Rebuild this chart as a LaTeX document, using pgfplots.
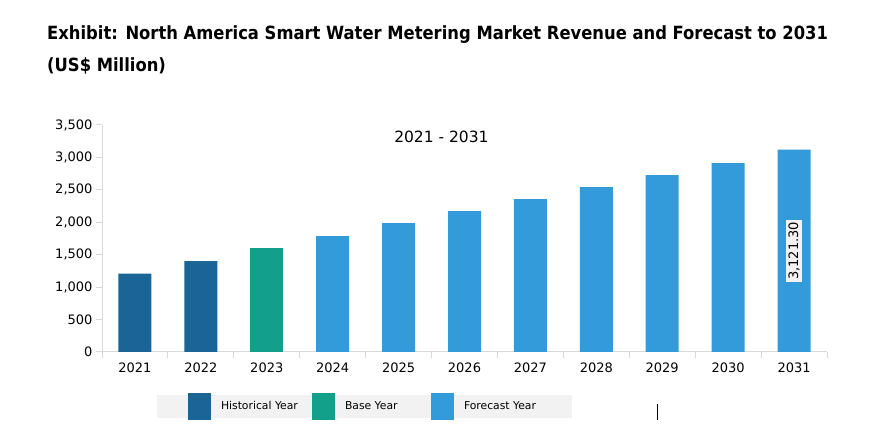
\documentclass[border=0pt]{standalone}
\usepackage{pgfplots}
\pgfplotsset{compat=1.18}
\usepackage{fontspec}
\setmainfont{DejaVu Sans}
\newfontfamily\titlefont{DejaVu Sans Condensed}
\definecolor{hist}{HTML}{1A6496}
\definecolor{base}{HTML}{13A08B}
\definecolor{fore}{HTML}{349BDB}
\definecolor{axgray}{HTML}{D9D9D9}
\definecolor{leggray}{HTML}{F2F2F2}
\begin{document}
\begin{tikzpicture}[x=1pt,y=1pt]
\path[use as bounding box, fill=white] (0,0) rectangle (891,433);
\node[anchor=base west, inner sep=0pt, font=\titlefont\bfseries\fontsize{18.2}{20}\selectfont] at (47,393) {Exhibit: North America Smart Water Metering Market Revenue and Forecast to 2031};
\node[anchor=base west, inner sep=0pt, font=\titlefont\bfseries\fontsize{18.2}{20}\selectfont] at (47,361) {(US\$ Million)};
\fill[leggray] (157,15) rectangle (572,38);
\begin{axis}[
  at={(102pt,81pt)}, anchor=south west,
  scale only axis, width=725pt, height=227pt,
  xmin=-0.5, xmax=10.5, ymin=0, ymax=3500,
  ybar, bar width=33pt,
  axis x line*=bottom, axis y line*=left,
  axis line style={axgray, line width=1pt},
  xtick={0,...,10},
  xticklabels={2021,2022,2023,2024,2025,2026,2027,2028,2029,2030,2031},
  x tick label style={font=\fontsize{13}{15}\selectfont, yshift=-1pt},
  major x tick style={draw=none},
  minor xtick={-0.5,0.5,...,10.5},
  minor x tick style={axgray, line width=1pt},
  minor tick length=6pt,
  ytick={0,500,...,3500},
  y tick label style={font=\fontsize{13}{15}\selectfont},
  yticklabel style={/pgf/number format/.cd, 1000 sep={,}},
  /pgf/number format/assume math mode=true,
  major y tick style={axgray, line width=1pt},
  major tick length=6pt,
  tick align=outside,
  clip=false,
  legend style={at={(86pt,-54.5pt)}, anchor=west, legend columns=3,
    fill=none, draw=none, inner sep=0pt, outer sep=0pt,
    font=\fontsize{10.8}{12}\selectfont,
    /tikz/every even column/.append style={column sep=0pt}},
  legend image code/.code={\fill[#1] (0pt,-13.5pt) rectangle (23pt,13.5pt);},
]
\addplot[fill=hist, draw=none, bar shift=0pt] coordinates {(0,1210) (1,1402)};
\addlegendentry{\makebox[97pt][l]{\hspace{8pt}Historical Year}}
\addplot[fill=base, draw=none, bar shift=0pt] coordinates {(2,1602)};
\addlegendentry{\makebox[92pt][l]{\hspace{8pt}Base Year}}
\addplot[fill=fore, draw=none, bar shift=0pt] coordinates {(3,1787) (4,1988) (5,2172) (6,2357) (7,2542) (8,2727) (9,2912) (10,3121.3)};
\addlegendentry{\makebox[100pt][l]{\hspace{8pt}Forecast Year}}
\node[rotate=90, fill=leggray, inner sep=2pt, font=\fontsize{13}{15}\selectfont] at (axis cs:10,1560.65) {3,121.30};
\node[font=\fontsize{15.5}{17}\selectfont] at (axis cs:4.65,3315) {2021 - 2031};
\end{axis}
\draw[black, line width=0.8pt] (657,13) -- (657,29);
\end{tikzpicture}
\end{document}
